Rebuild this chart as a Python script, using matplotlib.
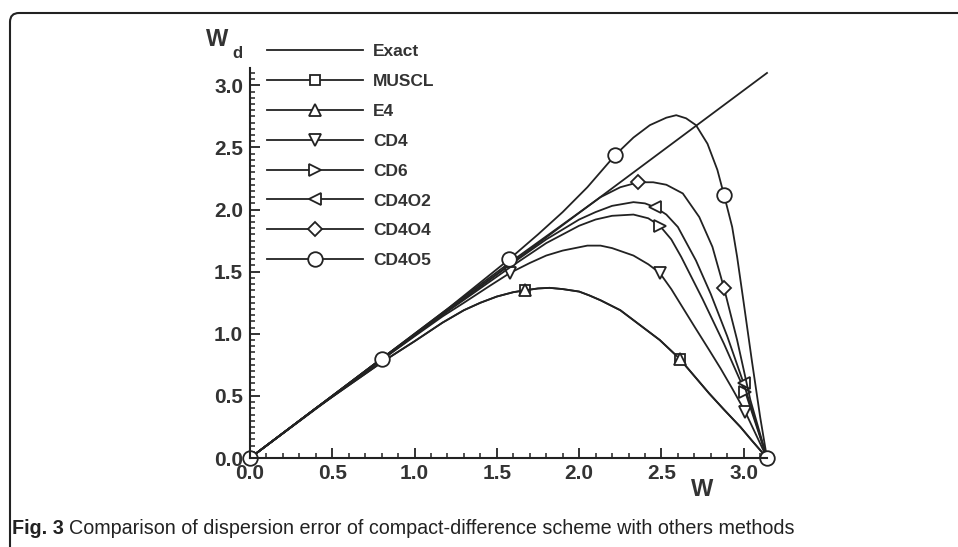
import numpy as np
import matplotlib
matplotlib.use('Agg')
matplotlib.rcParams['font.family'] = ['Liberation Sans', 'DejaVu Sans']
import matplotlib.pyplot as plt
from matplotlib.patches import FancyBboxPatch
from matplotlib.transforms import IdentityTransform
from matplotlib.ticker import MultipleLocator

# exact relation
w_exact = [0.0, 3.1416]
wd_exact = [0.0, 3.10]

# MUSCL and E4 lie on the same curve
w_muscl = [0.0, 0.40, 0.80, 1.00, 1.17, 1.30, 1.40, 1.50, 1.60, 1.67, 1.75, 1.82, 1.90, 2.00, 2.06,
           2.13, 2.25, 2.33, 2.40, 2.49, 2.61, 2.70, 2.79, 2.88, 2.98, 3.05, 3.1416]
wd_muscl = [0.0, 0.40, 0.77, 0.94, 1.09, 1.19, 1.25, 1.30, 1.335, 1.35, 1.365, 1.37, 1.36, 1.34, 1.31,
            1.27, 1.19, 1.11, 1.04, 0.95, 0.80, 0.66, 0.52, 0.39, 0.25, 0.14, 0.0]
w_e4 = w_muscl
wd_e4 = wd_muscl

w_cd4 = [0.0, 0.40, 0.80, 1.00, 1.17, 1.30, 1.45, 1.58, 1.70, 1.80, 1.90, 2.05, 2.13, 2.20, 2.33,
         2.42, 2.49, 2.56, 2.63, 2.70, 2.79, 2.86, 2.93, 3.01, 3.1416]
wd_cd4 = [0.0, 0.40, 0.79, 0.98, 1.14, 1.25, 1.38, 1.49, 1.57, 1.63, 1.67, 1.71, 1.71, 1.69, 1.63,
          1.56, 1.49, 1.36, 1.21, 1.06, 0.87, 0.72, 0.56, 0.37, 0.0]

w_cd6 = [0.0, 0.80, 1.20, 1.575, 1.80, 2.00, 2.10, 2.20, 2.33, 2.42, 2.49, 2.56, 2.62, 2.75, 2.88, 3.01, 3.1416]
wd_cd6 = [0.0, 0.80, 1.18, 1.53, 1.73, 1.87, 1.92, 1.95, 1.96, 1.93, 1.87, 1.76, 1.62, 1.28, 0.92, 0.53, 0.0]

w_cd4o2 = [0.0, 0.80, 1.20, 1.575, 1.80, 2.00, 2.10, 2.20, 2.33, 2.40, 2.46, 2.53, 2.60, 2.71, 2.80,
           2.90, 3.00, 3.1416]
wd_cd4o2 = [0.0, 0.80, 1.19, 1.55, 1.76, 1.92, 1.98, 2.03, 2.06, 2.05, 2.02, 1.96, 1.86, 1.59, 1.32,
            0.98, 0.60, 0.0]

w_cd4o4 = [0.0, 0.80, 1.20, 1.575, 1.90, 2.13, 2.25, 2.36, 2.45, 2.53, 2.63, 2.73, 2.81, 2.88, 2.96,
           3.04, 3.1416]
wd_cd4o4 = [0.0, 0.80, 1.20, 1.57, 1.88, 2.10, 2.18, 2.22, 2.22, 2.20, 2.13, 1.94, 1.70, 1.37, 0.95,
            0.47, 0.0]

w_cd4o5 = [0.0, 0.40, 0.80, 1.20, 1.575, 1.75, 1.90, 2.05, 2.22, 2.33, 2.43, 2.53, 2.59, 2.65, 2.71,
           2.78, 2.84, 2.88, 2.93, 2.96, 3.00, 3.05, 3.10, 3.1416]
wd_cd4o5 = [0.0, 0.40, 0.80, 1.20, 1.60, 1.80, 1.98, 2.18, 2.44, 2.58, 2.68, 2.74, 2.76, 2.735, 2.68,
            2.53, 2.32, 2.12, 1.86, 1.62, 1.25, 0.78, 0.33, 0.0]

x_ticks = [0.0, 0.5, 1.0, 1.5, 2.0, 2.5, 3.0]
y_ticks = [0.0, 0.5, 1.0, 1.5, 2.0, 2.5, 3.0]

W, H = 958, 547
fig = plt.figure(figsize=(W / 100, H / 100), dpi=100)
ax = fig.add_axes([250 / W, 1 - 458 / H, 517 / W, 390 / H])

ink = '#222222'
lw = 1.3
mk = dict(color=ink, lw=lw, mfc='white', mec=ink, mew=1.3, clip_on=False)

ax.plot(w_exact, wd_exact, color=ink, lw=lw, label='Exact', clip_on=False)
ax.plot(w_muscl, wd_muscl, marker='s', ms=7, markevery=[9, 20], label='MUSCL', **mk)
ax.plot(w_e4, wd_e4, marker='^', ms=8, markevery=[9, 20], label='E4', **mk)
ax.plot(w_cd4, wd_cd4, marker='v', ms=8.5, markevery=[7, 16, 23], label='CD4', **mk)
ax.plot(w_cd6, wd_cd6, marker='>', ms=8.5, markevery=[10, 15], label='CD6', **mk)
ax.plot(w_cd4o2, wd_cd4o2, marker='<', ms=8.5, markevery=[10, 16], label='CD4O2', **mk)
ax.plot(w_cd4o4, wd_cd4o4, marker='D', ms=7, markevery=[7, 13], label='CD4O4', **mk)
ax.plot(w_cd4o5, wd_cd4o5, marker='o', ms=10.5, markevery=[0, 2, 4, 8, 17, 23], label='CD4O5', **mk)

ax.set_xlim(0, 3.1416)
ax.set_ylim(0, 3.14)
ax.spines['top'].set_visible(False)
ax.spines['right'].set_visible(False)
for s in ['left', 'bottom']:
    ax.spines[s].set_linewidth(1.5)
    ax.spines[s].set_color(ink)

ax.set_xticks(x_ticks)
ax.set_yticks(y_ticks)
ax.set_xticklabels(['{:.1f}'.format(v) for v in x_ticks])
ax.set_yticklabels(['{:.1f}'.format(v) for v in y_ticks])
ax.xaxis.set_minor_locator(MultipleLocator(0.1))
ax.yaxis.set_minor_locator(MultipleLocator(0.05))
ax.tick_params(which='major', direction='in', length=7, width=1.3, color=ink,
               labelsize=15, pad=4)
ax.tick_params(which='minor', direction='in', length=3.5, width=1.1, color=ink)
ax.tick_params(axis='y', which='major', pad=5)
for lab in ax.get_xticklabels() + ax.get_yticklabels():
    lab.set_fontweight('bold')
    lab.set_color('#333333')

leg = ax.legend(loc='upper left', bbox_to_anchor=(0.033, 1.062), frameon=False,
                borderpad=0, borderaxespad=0, numpoints=1, handlelength=5.5,
                handletextpad=0.6, labelspacing=0.85,
                prop={'weight': 'bold', 'size': 12.5})
for t in leg.get_texts():
    t.set_color('#333333')

# axis titles
fig.text(217 / W, 1 - 40 / H, 'W', fontsize=17, fontweight='bold', color='#333333',
         ha='center', va='center')
fig.text(237 / W, 1 - 53 / H, 'd', fontsize=12, fontweight='bold', color='#333333',
         ha='center', va='center')
fig.text(702 / W, 1 - 490 / H, 'W', fontsize=17, fontweight='bold', color='#333333',
         ha='center', va='center')

# page frame
frame = FancyBboxPatch((10, -60), 1100, H - 13 + 60, boxstyle='round,pad=0,rounding_size=9',
                       transform=IdentityTransform(), fc='none', ec=ink, lw=1.5)
fig.add_artist(frame)

# caption
t1 = fig.text(12 / W, 1 - 528 / H, 'Fig. 3', fontsize=14.2, fontweight='bold',
              va='center', ha='left', color=ink)
fig.canvas.draw()
bb = t1.get_window_extent()
fig.text((bb.x1 + 5) / W, 1 - 528 / H,
         'Comparison of dispersion error of compact-difference scheme with others methods',
         fontsize=14.2, va='center', ha='left', color=ink)

plt.savefig('out.png', dpi=100)
